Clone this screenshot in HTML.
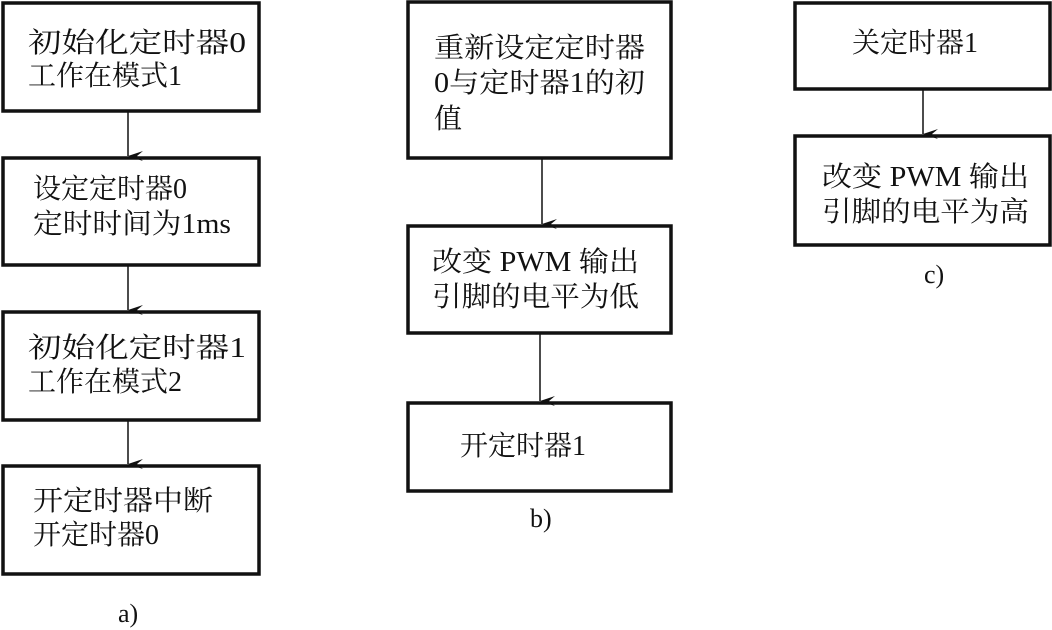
<!DOCTYPE html>
<html><head><meta charset="utf-8"><style>
html,body{margin:0;padding:0;background:#fff;width:1052px;height:630px;overflow:hidden}
text{font-family:"Liberation Serif","Noto Serif CJK SC",serif;font-size:28px;fill:#111}
</style></head><body>
<svg width="1052" height="630" viewBox="0 0 1052 630" xmlns="http://www.w3.org/2000/svg">
<defs><marker id="ar" markerWidth="10" markerHeight="16" refX="5" refY="15" orient="auto" markerUnits="userSpaceOnUse"><path d="M0,0 L5,15 L10,0 L5,6 Z" fill="#111"/></marker></defs>
<g fill="none" stroke="#111" stroke-width="3.5">
<rect x="3" y="3" width="256" height="108"/>
<rect x="3" y="158" width="256" height="107"/>
<rect x="3" y="312" width="256" height="108"/>
<rect x="3" y="466" width="256" height="108"/>
<rect x="408" y="2" width="263" height="156"/>
<rect x="408" y="226" width="263" height="107"/>
<rect x="408" y="403" width="263" height="88"/>
<rect x="795" y="3" width="255" height="86"/>
<rect x="795" y="136" width="255" height="109"/>
</g>
<g stroke="#111" stroke-width="1.5">
<line x1="128" y1="111" x2="128" y2="156" marker-end="url(#ar)"/>
<line x1="128" y1="265" x2="128" y2="310" marker-end="url(#ar)"/>
<line x1="128" y1="420" x2="128" y2="464" marker-end="url(#ar)"/>
<line x1="542" y1="158" x2="542" y2="224" marker-end="url(#ar)"/>
<line x1="540" y1="333" x2="540" y2="401" marker-end="url(#ar)"/>
<line x1="923" y1="89" x2="923" y2="134" marker-end="url(#ar)"/>
</g>
<text x="28" y="52" textLength="218" lengthAdjust="spacingAndGlyphs">初始化定时器0</text>
<text x="28" y="85">工作在模式1</text>
<text x="33" y="198">设定定时器0</text>
<text x="33" y="233" textLength="198" lengthAdjust="spacingAndGlyphs">定时时间为1ms</text>
<text x="28" y="357" textLength="218" lengthAdjust="spacingAndGlyphs">初始化定时器1</text>
<text x="28" y="391">工作在模式2</text>
<text x="33" y="510" textLength="180" lengthAdjust="spacingAndGlyphs">开定时器中断</text>
<text x="33" y="544">开定时器0</text>
<text x="118" y="622" style="font-size:26px">a)</text>
<text x="434" y="57" textLength="211" lengthAdjust="spacingAndGlyphs">重新设定定时器</text>
<text x="434" y="92" textLength="211" lengthAdjust="spacingAndGlyphs">0与定时器1的初</text>
<text x="434" y="128">值</text>
<text x="432" y="271" textLength="207" lengthAdjust="spacingAndGlyphs">改变 PWM 输出</text>
<text x="432" y="306" textLength="207" lengthAdjust="spacingAndGlyphs">引脚的电平为低</text>
<text x="460" y="455">开定时器1</text>
<text x="530" y="527" style="font-size:26px">b)</text>
<text x="852" y="52">关定时器1</text>
<text x="822" y="186" textLength="207" lengthAdjust="spacingAndGlyphs">改变 PWM 输出</text>
<text x="822" y="221" textLength="207" lengthAdjust="spacingAndGlyphs">引脚的电平为高</text>
<text x="924" y="283" style="font-size:26px">c)</text>
</svg>
</body></html>
